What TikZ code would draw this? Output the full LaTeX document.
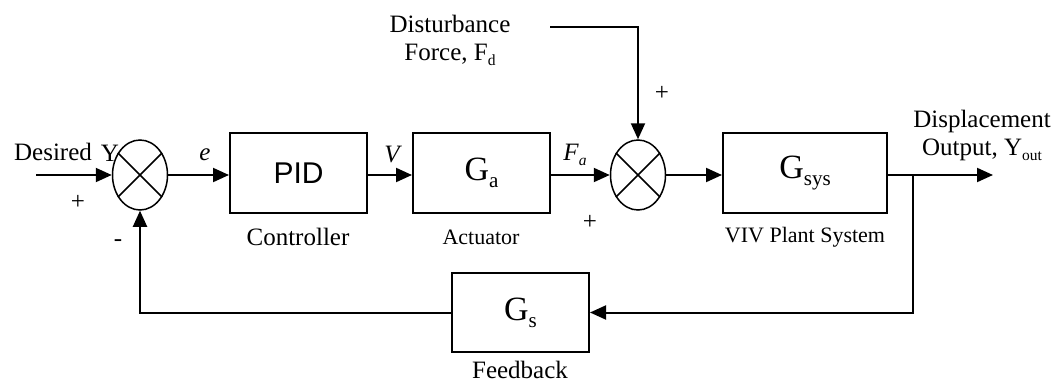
\documentclass[tikz,border=0pt]{standalone}
\usepackage{fontspec}
\usepackage{graphicx}
\setmainfont{Liberation Serif}
\newfontfamily\arialfont{Liberation Sans}
\usetikzlibrary{arrows.meta,shapes.geometric}
\newcommand\lowsub[1]{\raisebox{-0.45ex}{\scalebox{0.62}{#1}}}
\tikzset{
  blk/.style={draw, line width=2pt, minimum width=137pt, minimum height=80pt, inner sep=0pt},
  sumj/.style={draw, ellipse, line width=1.5pt, minimum width=55pt, minimum height=70pt, inner sep=0pt},
  arr/.style={line width=2pt, -{Triangle[length=16pt,width=14pt]}},
  wire/.style={line width=2pt},
  lbl/.style={font=\fontsize{25}{28}\selectfont, inner sep=0pt},
  slbl/.style={font=\fontsize{22}{25}\selectfont, inner sep=0pt},
  glbl/.style={font=\fontsize{34}{36}\selectfont, inner sep=0pt}
}
\begin{document}
\begin{tikzpicture}[x=1pt,y=-1pt]
\useasboundingbox (0,0) rectangle (1064,385);
% summing junctions
\node[sumj] (s1) at (140,175) {};
\node[sumj] (s2) at (638,175) {};
\draw[line width=1.5pt] (s1.45) -- (s1.225) (s1.135) -- (s1.315);
\draw[line width=1.5pt] (s2.45) -- (s2.225) (s2.135) -- (s2.315);
% blocks
\node[blk] (pid) at (298.5,173) {\arialfont\fontsize{30}{32}\selectfont PID};
\node[blk] (ga) at (481.5,173) {\fontsize{34}{36}\selectfont G\lowsub{a}};
\node[blk, minimum width=164pt] (gsys) at (805,173) {\fontsize{34}{36}\selectfont G\lowsub{sys}};
\node[blk, minimum height=79pt] (gs) at (520.5,312.5) {\fontsize{34}{36}\selectfont G\lowsub{s}};
% block captions
\node[lbl] (cap1) at (298,237) {Controller};
\node[slbl] (cap2) at (481,237) {Actuator};
\node[slbl] (cap3) at (805,237) {VIV Plant System};
\node[lbl] (cap4) at (520,370) {Feedback};
% coordinates
\coordinate (in) at (36,175);
\coordinate (out) at (993,175);
\coordinate (br) at (913,175);
\coordinate (dst) at (550,27);
% connectors
\draw[arr] (in) -- (s1.west);
\draw[arr] (s1.east) -- (pid.west |- s1.east);
\draw[arr] (pid.east |- s1.east) -- (ga.west |- s1.east);
\draw[arr] (ga.east |- s1.east) -- (s2.west);
\draw[arr] (s2.east) -- (gsys.west |- s2.east);
\draw[arr] (gsys.east |- s2.east) -- (out);
\draw[arr] (br) |- (gs.east);
\draw[arr] (gs.west) -| (s1.south);
\draw[arr] (dst) -| (s2.north);
% signal labels
\node[lbl] (des) at (53,152) {Desired};
\node[lbl] (ylab) at (110,153) {Y};
\node[lbl] (p1) at (78,202) {+};
\node[lbl] (m1) at (118,243) {-};
\node[lbl] (elab) at (205,155) {\itshape e};
\node[lbl] (vlab) at (392,155) {\itshape V};
\node[lbl] (falab) at (575,155) {\itshape F\lowsub{a}};
\node[lbl] (p2) at (590,222) {+};
\node[lbl] (p3) at (662,93) {+};
\node[lbl, align=center] (dlab) at (450,40) {Disturbance\\Force, F\lowsub{d}};
\node[lbl, align=center] (olab) at (982,135) {Displacement\\Output, Y\lowsub{out}};
\end{tikzpicture}
\end{document}
